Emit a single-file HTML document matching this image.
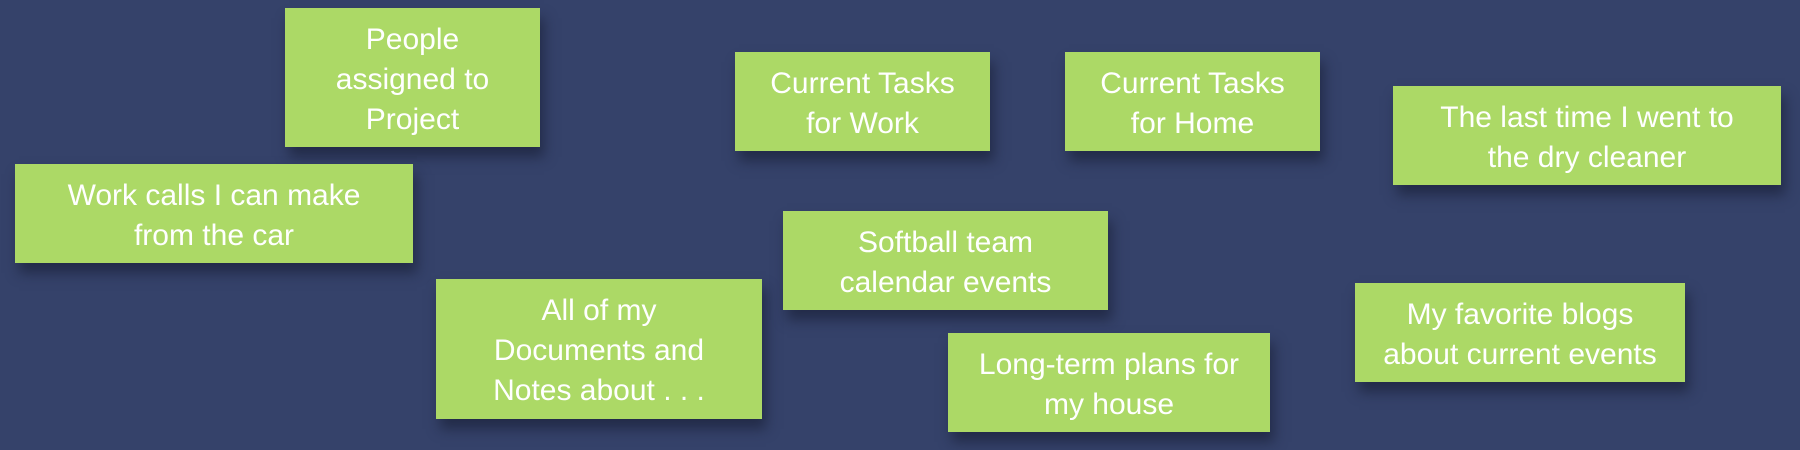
<!DOCTYPE html>
<html><head><style>
html,body{margin:0;padding:0}
body{width:1800px;height:450px;background:#35426a;position:relative;overflow:hidden;font-family:"Liberation Sans",sans-serif}
.b{position:absolute;box-sizing:border-box;padding-top:4px;background:#acd966;color:#fff;display:flex;align-items:center;justify-content:center;text-align:center;font-size:30px;line-height:40px;box-shadow:4px 10px 12px rgba(20,25,45,0.55)}
</style></head><body>
<div class="b" style="left:285px;top:8px;width:255px;height:139px">People<br>assigned to<br>Project</div>
<div class="b" style="left:15px;top:164px;width:398px;height:99px">Work calls I can make<br>from the car</div>
<div class="b" style="left:436px;top:279px;width:326px;height:140px">All of my<br>Documents and<br>Notes about . . .</div>
<div class="b" style="left:735px;top:52px;width:255px;height:99px">Current Tasks<br>for Work</div>
<div class="b" style="left:1065px;top:52px;width:255px;height:99px">Current Tasks<br>for Home</div>
<div class="b" style="left:1393px;top:86px;width:388px;height:99px">The last time I went to<br>the dry cleaner</div>
<div class="b" style="left:783px;top:211px;width:325px;height:99px">Softball team<br>calendar events</div>
<div class="b" style="left:948px;top:333px;width:322px;height:99px">Long-term plans for<br>my house</div>
<div class="b" style="left:1355px;top:283px;width:330px;height:99px">My favorite blogs<br>about current events</div>
</body></html>
